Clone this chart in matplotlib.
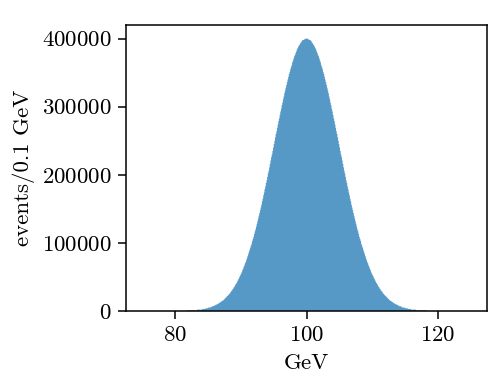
import numpy as np
import matplotlib
matplotlib.use("Agg")
import matplotlib.pyplot as plt

# Configuration
plt.rcParams["font.family"] = ["cmr10", "DejaVu Serif"]
plt.rcParams["mathtext.fontset"] = "cm"
plt.rcParams["axes.formatter.use_mathtext"] = True
plt.rcParams["font.size"] = 16.5

# Histogram range (GeV) and bin width
X_MIN, X_MAX, BIN_WIDTH = 75.0, 125.0, 0.1

# Counts per 0.1 GeV bin, in thousands
# left half: 75.0 -> 100.0 GeV
counts_left_k = [0] * 67 + [
    1, 1, 1,
    1, 1, 1, 1, 1, 1, 1, 1, 1, 1, 1, 1, 1, 2, 2, 2, 2, 2, 2, 2,
    2, 3, 3, 3, 3, 3, 4, 4, 4, 4, 5, 5, 5, 5, 6, 6, 7, 7, 7, 8,
    8, 9, 9, 10, 10, 11, 11, 12, 13, 13, 14, 15, 15, 16, 17, 18, 19, 20, 21, 22,
    23, 24, 25, 26, 28, 29, 30, 32, 33, 35, 36, 38, 40, 41, 43, 45, 47, 49, 51, 53,
    55, 57, 60, 62, 65, 67, 70, 72, 75, 78, 81, 84, 87, 90, 93, 96, 99, 103, 106, 109,
    113, 117, 120, 124, 128, 132, 136, 140, 144, 148, 152, 156, 161, 165, 170, 174, 179, 183, 188, 192,
    197, 202, 206, 211, 216, 221, 226, 230, 235, 240, 245, 250, 255, 260, 264, 269, 274, 279, 283, 288,
    293, 297, 302, 306, 311, 315, 320, 324, 328, 332, 336, 340, 344, 348, 351, 355, 358, 361, 365, 368,
    371, 374, 376, 379, 381, 384, 386, 388, 390, 391, 393, 394, 396, 397, 398, 398, 399, 399, 400, 400,
]
# right half: 100.0 -> 125.0 GeV
counts_right_k = [
    400, 400, 399, 399, 398, 398, 397, 396, 394, 393, 391, 390, 388, 386, 384, 381, 379, 376, 374, 371,
    368, 365, 361, 358, 355, 351, 348, 344, 340, 336, 332, 328, 324, 320, 315, 311, 306, 302, 297, 293,
    288, 283, 279, 274, 269, 264, 260, 255, 250, 245, 240, 235, 230, 226, 221, 216, 211, 206, 202, 197,
    192, 188, 183, 179, 174, 170, 165, 161, 156, 152, 148, 144, 140, 136, 132, 128, 124, 120, 117, 113,
    109, 106, 103, 99, 96, 93, 90, 87, 84, 81, 78, 75, 72, 70, 67, 65, 62, 60, 57, 55,
    53, 51, 49, 47, 45, 43, 41, 40, 38, 36, 35, 33, 32, 30, 29, 28, 26, 25, 24, 23,
    22, 21, 20, 19, 18, 17, 16, 15, 15, 14, 13, 13, 12, 11, 11, 10, 10, 9, 9, 8,
    8, 7, 7, 7, 6, 6, 5, 5, 5, 5, 4, 4, 4, 4, 3, 3, 3, 3, 3, 2,
    2, 2, 2, 2, 2, 2, 2, 1, 1, 1, 1, 1, 1, 1, 1, 1, 1, 1, 1, 1,
    1, 1, 1,
] + [0] * 67

counts = np.array(counts_left_k + counts_right_k, dtype=float) * 1000
n_bins = len(counts)
edges = np.linspace(X_MIN, X_MAX, n_bins + 1)
centers = 0.5 * (edges[:-1] + edges[1:])

fig = plt.figure(figsize=(4.95, 3.75), dpi=100)
ax = fig.add_axes([0.2545, 0.1707, 0.7295, 0.7626])

ax.hist(centers, bins=edges, weights=counts, histtype="stepfilled",
        color="#1f77b4", alpha=0.75, linewidth=0)

ax.set_xticks([80, 100, 120])
ax.set_yticks([0, 100000, 200000, 300000, 400000])
ax.set_xlabel("GeV", labelpad=6)
ax.set_ylabel("events/0.1 GeV", labelpad=5)
ax.tick_params(direction="out", length=5.5, width=1.1, pad=5)
for spine in ax.spines.values():
    spine.set_linewidth(1.1)

fig.savefig("out.png", dpi=100)
